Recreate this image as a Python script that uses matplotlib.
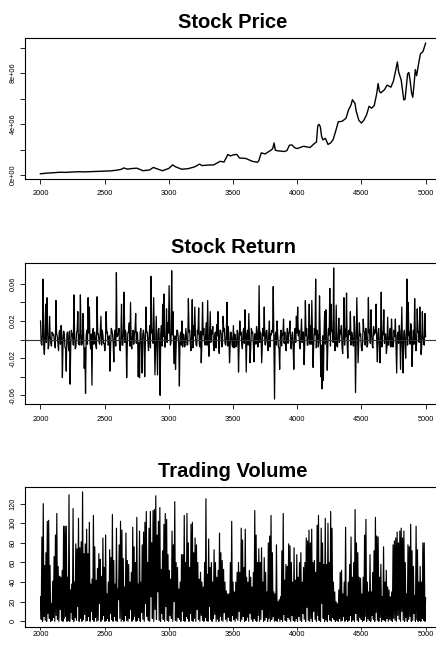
import numpy as np
import matplotlib
matplotlib.use('Agg')
import matplotlib.pyplot as plt

plt.rcParams['font.family'] = ['Liberation Sans', 'DejaVu Sans']

# stock price (in millions)
price_t = [2000, 2050, 2100, 2150, 2200, 2250, 2300, 2350, 2400, 2450, 2500, 2550, 2600, 2630,
           2650, 2680, 2700, 2750, 2800, 2850, 2880, 2900, 2950, 3000, 3030, 3050, 3100, 3150,
           3200, 3240, 3260, 3300, 3350, 3400, 3430, 3460, 3480, 3500, 3530, 3550, 3600, 3650,
           3690, 3700, 3720, 3750, 3800, 3810, 3820, 3830, 3850, 3900, 3920, 3940, 3960, 3980,
           4000, 4050, 4100, 4130, 4150, 4160, 4170, 4180, 4190, 4200, 4220, 4240, 4260, 4280,
           4300, 4320, 4350, 4380, 4400, 4420, 4430, 4450, 4460, 4480, 4500, 4520, 4540, 4560,
           4580, 4600, 4620, 4630, 4640, 4650, 4680, 4700, 4730, 4750, 4770, 4780, 4790, 4810,
           4830, 4840, 4860, 4870, 4880, 4890, 4900, 4910, 4920, 4930, 4950, 4960, 4980, 5000]
price_m = [0.10, 0.15, 0.18, 0.22, 0.21, 0.24, 0.26, 0.25, 0.27, 0.29, 0.31, 0.33, 0.39, 0.45,
           0.56, 0.46, 0.50, 0.54, 0.34, 0.40, 0.60, 0.52, 0.34, 0.52, 0.80, 0.66, 0.46, 0.50,
           0.64, 0.86, 0.74, 0.78, 0.80, 1.08, 1.02, 1.62, 1.50, 1.58, 1.62, 1.34, 1.30, 1.08,
           1.00, 1.10, 1.74, 1.66, 1.98, 2.10, 2.52, 1.95, 1.90, 1.85, 1.92, 2.35, 2.36, 2.15,
           2.08, 2.26, 2.16, 2.44, 2.60, 3.85, 3.98, 3.80, 3.05, 2.76, 2.88, 2.40, 2.52, 2.78,
           3.46, 4.18, 4.22, 4.46, 5.12, 5.52, 5.92, 5.62, 5.00, 4.30, 4.08, 4.32, 4.72, 5.40,
           5.25, 5.46, 6.42, 7.18, 6.60, 6.45, 6.70, 7.06, 6.90, 7.40, 8.36, 8.88, 8.10, 7.46,
           5.90, 5.95, 7.95, 8.05, 7.40, 6.50, 6.10, 7.10, 8.28, 7.80, 9.00, 9.52, 9.70, 10.35]

# stock return: the largest move in each block of 10 steps ...
returns = [
    0.020, -0.006, 0.065, -0.016, 0.038, 0.045, -0.010, 0.025, -0.004, 0.008,
    0.006, -0.005, 0.042, 0.004, -0.012, 0.010, 0.015, -0.041, 0.009, -0.008,
    -0.034, 0.008, -0.012, -0.048, 0.010, 0.006, 0.048, -0.010, 0.007, 0.030,
    0.005, 0.048, -0.006, 0.028, -0.031, -0.058, 0.010, 0.045, 0.035, -0.010,
    -0.049, 0.012, 0.008, -0.006, 0.046, 0.006, -0.005, 0.025, 0.010, -0.004,
    -0.012, 0.030, 0.008, -0.005, -0.034, 0.012, 0.006, -0.024, 0.010, 0.072,
    0.006, 0.012, -0.012, 0.038, -0.006, 0.051, 0.010, -0.041, 0.008, 0.018,
    0.040, -0.010, 0.010, 0.006, 0.028, 0.008, -0.040, -0.041, 0.012, -0.036,
    0.010, -0.040, 0.035, 0.008, -0.012, 0.015, 0.068, 0.010, 0.045, -0.038,
    0.025, -0.038, 0.012, -0.060, 0.015, 0.038, 0.049, -0.008, 0.033, 0.018,
    0.058, -0.006, 0.074, 0.030, -0.026, -0.032, 0.010, 0.004, -0.050, 0.008,
    0.020, 0.006, -0.008, 0.012, -0.006, 0.044, 0.010, -0.012, 0.043, 0.015,
    0.035, -0.006, 0.010, 0.034, -0.008, -0.025, 0.040, 0.012, -0.006, 0.018,
    0.042, -0.018, 0.030, 0.010, 0.014, -0.012, 0.008, 0.016, 0.030, -0.015,
    0.010, -0.008, 0.025, 0.012, -0.006, 0.040, 0.014, -0.025, 0.008, -0.006,
    0.015, 0.006, -0.008, 0.010, -0.035, 0.020, 0.008, -0.010, 0.012, 0.032,
    -0.035, 0.010, 0.028, -0.025, 0.012, 0.008, -0.024, 0.006, 0.014, -0.008,
    0.058, 0.008, -0.025, 0.012, 0.035, -0.006, 0.010, -0.012, 0.020, 0.006,
    0.010, 0.057, -0.064, 0.008, 0.020, -0.008, -0.032, 0.010, 0.006, 0.022,
    0.008, -0.012, 0.012, 0.006, 0.020, -0.010, 0.008, -0.032, 0.012, 0.025,
    0.035, 0.010, -0.010, 0.022, 0.008, -0.027, 0.042, 0.012, -0.006, 0.038,
    0.015, 0.042, -0.030, 0.012, 0.065, 0.010, -0.008, 0.047, -0.040, -0.053,
    -0.044, 0.030, 0.032, -0.033, 0.012, 0.055, 0.038, 0.010, 0.077, -0.012,
    0.037, -0.008, 0.023, 0.010, 0.015, -0.015, 0.045, 0.012, 0.050, -0.020,
    0.010, 0.030, 0.008, -0.006, 0.025, -0.057, 0.045, -0.025, 0.018, 0.006,
    -0.012, 0.022, 0.008, 0.012, -0.008, 0.045, 0.010, 0.032, -0.006, 0.014,
    0.010, 0.038, -0.024, 0.012, -0.025, 0.051, 0.008, 0.032, 0.006, -0.015,
    0.024, -0.006, 0.012, 0.022, -0.008, 0.010, 0.022, -0.036, 0.008, 0.015,
    -0.032, 0.035, -0.036, 0.010, -0.020, 0.065, 0.040, 0.008, 0.017, -0.029,
    0.010, 0.044, -0.012, 0.033, 0.008, 0.035, -0.016, 0.030, -0.005, 0.028,
]
# ... and the small moves of the dense band around zero between them
ret_band = [
    -0.004, 0.006, -0.008, 0.005, -0.003, 0.009, -0.006, 0.004, -0.007, 0.005,
    0.003, -0.009, 0.006, -0.004, 0.008, -0.005, 0.007, -0.003, 0.005, -0.010,
    0.006, -0.004, 0.009, -0.007, 0.004, -0.006, 0.003, -0.008, 0.010, -0.005,
    -0.006, 0.005, -0.003, 0.008, -0.009, 0.004, -0.005, 0.007, -0.004, 0.006,
    0.008, -0.005, 0.004, -0.010, 0.006, -0.003, 0.009, -0.006, 0.005, -0.004,
    -0.003, 0.007, -0.006, 0.004, -0.008, 0.010, -0.004, 0.005, -0.007, 0.003,
    0.005, -0.008, 0.004, -0.006, 0.009, -0.003, 0.006, -0.005, 0.008, -0.007,
    -0.007, 0.004, -0.005, 0.010, -0.004, 0.006, -0.003, 0.008, -0.006, 0.005,
    0.004, -0.006, 0.008, -0.003, 0.005, -0.009, 0.007, -0.004, 0.006, -0.005,
    -0.005, 0.009, -0.004, 0.006, -0.007, 0.003, -0.008, 0.005, -0.003, 0.007,
    0.007, -0.003, 0.005, -0.008, 0.004, -0.006, 0.010, -0.005, 0.003, -0.006,
    -0.008, 0.005, -0.006, 0.003, -0.005, 0.008, -0.004, 0.007, -0.009, 0.004,
    0.003, -0.007, 0.006, -0.005, 0.009, -0.004, 0.005, -0.003, 0.008, -0.006,
    -0.004, 0.008, -0.003, 0.006, -0.006, 0.005, -0.009, 0.004, -0.005, 0.010,
    0.006, -0.005, 0.009, -0.004, 0.003, -0.007, 0.005, -0.006, 0.004, -0.008,
    -0.009, 0.004, -0.006, 0.007, -0.003, 0.005, -0.005, 0.008, -0.004, 0.006,
    0.005, -0.006, 0.003, -0.008, 0.007, -0.004, 0.006, -0.005, 0.009, -0.003,
    -0.003, 0.006, -0.007, 0.004, -0.005, 0.009, -0.004, 0.006, -0.008, 0.005,
    0.008, -0.004, 0.005, -0.006, 0.004, -0.009, 0.003, -0.007, 0.005, -0.004,
    -0.006, 0.003, -0.004, 0.009, -0.006, 0.005, -0.008, 0.004, -0.003, 0.007,
    0.004, -0.008, 0.006, -0.003, 0.008, -0.005, 0.004, -0.006, 0.007, -0.005,
    -0.005, 0.007, -0.004, 0.005, -0.009, 0.006, -0.003, 0.008, -0.006, 0.004,
    0.006, -0.005, 0.008, -0.004, 0.005, -0.007, 0.009, -0.003, 0.004, -0.006,
    -0.007, 0.004, -0.003, 0.006, -0.008, 0.005, -0.006, 0.003, -0.005, 0.009,
    0.005, -0.006, 0.004, -0.007, 0.006, -0.003, 0.008, -0.005, 0.004, -0.008,
    -0.004, 0.009, -0.006, 0.003, -0.005, 0.007, -0.004, 0.006, -0.009, 0.005,
    0.007, -0.003, 0.006, -0.005, 0.004, -0.008, 0.005, -0.004, 0.006, -0.007,
    -0.006, 0.005, -0.008, 0.004, -0.006, 0.003, -0.009, 0.005, -0.004, 0.008,
    0.004, -0.007, 0.005, -0.003, 0.009, -0.006, 0.004, -0.005, 0.007, -0.004,
    -0.005, 0.006, -0.004, 0.008, -0.003, 0.005, -0.007, 0.004, -0.006, 0.003,
]

# trading volume: local peaks and the troughs between them
vol_peaks = [
    25, 86, 120, 57, 70, 102, 103, 57, 18, 41,
    66, 88, 110, 56, 46, 45, 52, 97, 97, 97,
    45, 129, 32, 38, 115, 40, 79, 74, 105, 75,
    81, 132, 69, 79, 94, 69, 101, 38, 43, 108,
    76, 42, 54, 69, 63, 46, 85, 55, 88, 28,
    40, 73, 65, 109, 62, 38, 95, 33, 78, 102,
    93, 64, 35, 90, 62, 58, 40, 50, 96, 76,
    60, 106, 38, 92, 40, 78, 91, 101, 112, 60,
    95, 112, 80, 113, 114, 128, 88, 102, 116, 53,
    72, 99, 110, 104, 68, 52, 43, 92, 78, 122,
    60, 55, 33, 40, 68, 68, 108, 60, 110, 80,
    55, 99, 101, 70, 85, 78, 60, 43, 50, 40,
    35, 60, 125, 48, 84, 55, 60, 40, 73, 60,
    45, 52, 90, 70, 62, 53, 40, 31, 28, 28,
    60, 102, 40, 30, 40, 50, 60, 50, 95, 83,
    55, 94, 45, 40, 52, 45, 35, 50, 113, 88,
    60, 74, 60, 75, 40, 65, 50, 30, 80, 87,
    108, 70, 30, 28, 78, 20, 22, 25, 72, 110,
    42, 58, 56, 79, 77, 60, 40, 75, 42, 68,
    45, 60, 70, 40, 55, 60, 85, 82, 93, 80,
    94, 60, 62, 50, 98, 108, 60, 95, 80, 58,
    105, 58, 100, 60, 112, 95, 40, 30, 20, 18,
    32, 50, 52, 28, 40, 96, 25, 40, 58, 86,
    45, 60, 114, 80, 70, 45, 44, 28, 45, 88,
    104, 40, 30, 68, 30, 50, 72, 106, 87, 86,
    45, 58, 25, 76, 40, 52, 35, 32, 25, 30,
    78, 82, 85, 91, 80, 92, 95, 85, 92, 60,
    28, 78, 76, 99, 72, 56, 26, 97, 73, 40,
    56, 40, 80, 80, 24,
]
vol_troughs = [
    2, 0, 5, 1, 0, 8, 3, 0, 1, 4,
    0, 6, 2, 0, 12, 1, 0, 3, 5, 0,
    1, 0, 9, 2, 0, 4, 1, 15, 0, 3,
    0, 2, 7, 0, 1, 5, 0, 10, 2, 0,
    4, 0, 1, 18, 0, 2, 6, 0, 1, 3,
    0, 8, 2, 0, 5, 1, 0, 22, 3, 0,
    2, 0, 6, 1, 0, 3, 12, 0, 2, 5,
    0, 1, 4, 0, 9, 2, 0, 18, 5, 1,
    0, 25, 3, 0, 12, 2, 30, 1, 0, 8,
    2, 0, 15, 1, 0, 6, 3, 0, 20, 1,
    0, 4, 2, 0, 10, 1, 0, 5, 3, 0,
    8, 1, 0, 3, 0, 12, 2, 0, 6, 1,
    0, 4, 1, 0, 15, 2, 0, 3, 7, 0,
    2, 0, 5, 1, 0, 9, 2, 0, 4, 1,
    0, 6, 2, 0, 3, 1, 10, 0, 2, 5,
    0, 1, 4, 0, 8, 2, 0, 3, 1, 0,
    6, 0, 2, 12, 0, 1, 4, 0, 3, 0,
    2, 5, 0, 1, 0, 3, 0, 2, 0, 7,
    1, 0, 4, 2, 0, 6, 1, 0, 3, 0,
    5, 1, 0, 8, 2, 0, 14, 1, 0, 3,
    0, 10, 2, 0, 6, 1, 0, 18, 3, 0,
    2, 0, 7, 1, 0, 4, 2, 0, 1, 0,
    3, 0, 1, 5, 0, 2, 0, 1, 6, 0,
    2, 0, 8, 1, 0, 4, 2, 0, 1, 5,
    0, 3, 1, 0, 6, 2, 0, 9, 1, 0,
    4, 0, 2, 1, 0, 3, 0, 2, 1, 0,
    3, 1, 0, 6, 2, 0, 10, 1, 0, 4,
    0, 2, 5, 0, 1, 8, 0, 2, 0, 1,
    0, 3, 1, 0,
]


def interleave(a, b):
    out = []
    for i in range(len(a)):
        out.append(a[i])
        if i < len(b):
            out.append(b[i])
    return out


ret_series = interleave(returns, ret_band)
volume = interleave(vol_peaks, vol_troughs)
ret_t = np.linspace(2001, 5000, len(ret_series))
vol_t = np.linspace(2001, 5000, len(volume))


def r_lim(v):
    lo, hi = np.min(v), np.max(v)
    pad = 0.04 * (hi - lo)
    return lo - pad, hi + pad


def style(ax, title, yticks, ylabels, xlen=3.6, xpad=4.5):
    ax.set_xlim(1880, 5120)
    ax.set_xticks([2000, 2500, 3000, 3500, 4000, 4500, 5000])
    ax.set_yticks(yticks)
    ax.set_yticklabels(ylabels, rotation=90, va='center')
    ax.tick_params(axis='both', direction='out', length=3.6, width=0.6,
                   labelsize=5.3, colors='black')
    ax.tick_params(axis='x', pad=xpad, length=xlen)
    ax.tick_params(axis='y', pad=2.5)
    for s in ax.spines.values():
        s.set_linewidth(0.8)
    ax.set_title(title, fontsize=14.5, fontweight='bold', pad=7)


fig = plt.figure(figsize=(4.36, 6.45), dpi=100)
left, width = 25 / 436, 416 / 436

ax1 = fig.add_axes([left, 1 - 179 / 645, width, 141 / 645])
ax1.plot(price_t, np.array(price_m) * 1e6, color='black', linewidth=1.0)
ax1.set_ylim(*r_lim(np.array(price_m) * 1e6))
style(ax1, 'Stock Price', [0, 2e6, 4e6, 6e6, 8e6, 1e7],
      ['0e+00', '', '4e+06', '', '8e+06', ''])

ax2 = fig.add_axes([left, 1 - 404.3 / 645, width, 141.6 / 645])
ax2.plot(ret_t, ret_series, color='black', linewidth=0.9)
ax2.axhline(0, color='#333333', linewidth=0.8)
ax2.set_ylim(*r_lim(ret_series))
style(ax2, 'Stock Return', [-0.06, -0.04, -0.02, 0, 0.02, 0.04, 0.06],
      ['-0.06', '', '-0.02', '', '0.02', '', '0.06'])

ax3 = fig.add_axes([left, 1 - 626.5 / 645, width, 139.8 / 645])
ax3.plot(vol_t, volume, color='black', linewidth=0.85)
ax3.set_ylim(*r_lim(volume))
style(ax3, 'Trading Volume', [0, 20, 40, 60, 80, 100, 120],
      ['0', '20', '40', '60', '80', '100', '120'], xlen=2.0, xpad=1.2)

fig.savefig('out.png', dpi=100)
